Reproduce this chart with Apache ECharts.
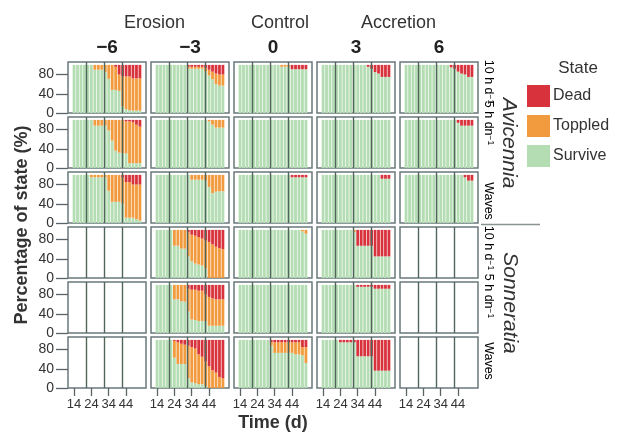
<!DOCTYPE html>
<html>
<head>
<meta charset="utf-8">
<script src="https://cdn.jsdelivr.net/npm/echarts@6/dist/echarts.min.js"></script>
<style>
  html, body { margin: 0; padding: 0; background: #fff; }
  #main { width: 617px; height: 433px; }
</style>
</head>
<body>
<div id="main"></div>
<script>
// sampling days (one bar every second day)
var days = [14, 16, 18, 20, 22, 24, 26, 28, 30, 32, 34, 36, 38, 40, 42, 44, 46, 48, 50, 52];
var dayTicks = [14, 24, 34, 44];
var pctTicks = [0, 40, 80];
var columns = ['\u22126', '\u22123', '0', '3', '6'];
var states = ['Survive', 'Toppled', 'Dead'];

var full = [100, 100, 100, 100, 100, 100, 100, 100, 100, 100, 100, 100, 100, 100, 100, 100, 100, 100, 100, 100];
var none = [0, 0, 0, 0, 0, 0, 0, 0, 0, 0, 0, 0, 0, 0, 0, 0, 0, 0, 0, 0];

// Avicennia, 10 h d-1 : survive % and dead % (toppled is the rest)
var avi10_m6_S = [100, 100, 100, 100, 100, 100, 90, 90, 90, 85, 71, 48, 48, 46, 14, 8, 6, 5, 5, 5];
var avi10_m6_D = [0, 0, 0, 0, 0, 0, 0, 0, 0, 0, 0, 0, 4, 20, 24, 24, 24, 28, 28, 28];
var avi10_m3_S = [100, 100, 100, 100, 100, 100, 100, 100, 100, 92, 92, 92, 92, 92, 86, 78, 70, 60, 57, 57];
var avi10_m3_D = [0, 0, 0, 0, 0, 0, 0, 0, 0, 4, 4, 4, 4, 4, 6, 10, 14, 18, 20, 20];
var avi10_c0_S = [100, 100, 100, 100, 100, 100, 100, 100, 100, 100, 100, 100, 96, 96, 96, 91, 91, 91, 91, 91];
var avi10_c0_D = [0, 0, 0, 0, 0, 0, 0, 0, 0, 0, 0, 0, 0, 0, 0, 9, 9, 9, 9, 9];
var avi10_p3_S = [100, 100, 100, 100, 100, 100, 100, 100, 100, 100, 100, 100, 100, 96, 92, 85, 82, 75, 75, 75];
var avi10_p3_D = [0, 0, 0, 0, 0, 0, 0, 0, 0, 0, 0, 0, 0, 4, 8, 15, 18, 25, 25, 25];
var avi10_p6_S = [100, 100, 100, 100, 100, 100, 100, 100, 100, 100, 100, 100, 100, 95, 92, 86, 82, 80, 75, 75];
var avi10_p6_D = [0, 0, 0, 0, 0, 0, 0, 0, 0, 0, 0, 0, 0, 5, 8, 14, 18, 20, 25, 25];

// Avicennia, 5 h dn-1
var avi5_m6_S = [100, 100, 100, 100, 100, 100, 88, 88, 88, 88, 78, 57, 36, 32, 31, 30, 10, 10, 10, 10];
var avi5_m6_D = [0, 0, 0, 0, 0, 0, 0, 0, 0, 0, 0, 0, 0, 0, 0, 3, 3, 5, 10, 14];
var avi5_m3_S = [100, 100, 100, 100, 100, 100, 100, 100, 100, 100, 100, 100, 100, 100, 100, 97, 90, 84, 84, 84];
var avi5_p6_S = [100, 100, 100, 100, 100, 100, 100, 100, 100, 100, 100, 100, 100, 100, 100, 94, 88, 88, 88, 88];
var avi5_p6_D = [0, 0, 0, 0, 0, 0, 0, 0, 0, 0, 0, 0, 0, 0, 0, 6, 12, 12, 12, 12];

// Avicennia, waves
var aviW_m6_S = [100, 100, 100, 100, 100, 95, 95, 95, 95, 95, 67, 44, 44, 44, 40, 11, 11, 11, 8, 5];
var aviW_m6_D = [0, 0, 0, 0, 0, 0, 0, 0, 0, 0, 0, 0, 0, 0, 5, 15, 15, 20, 20, 20];
var aviW_m3_S = [100, 100, 100, 100, 100, 100, 100, 100, 100, 100, 90, 90, 90, 90, 88, 75, 62, 65, 66, 66];
var aviW_c0_S = [100, 100, 100, 100, 100, 100, 100, 100, 100, 100, 100, 100, 100, 100, 100, 95, 95, 95, 95, 95];
var aviW_c0_D = [0, 0, 0, 0, 0, 0, 0, 0, 0, 0, 0, 0, 0, 0, 0, 5, 5, 5, 5, 5];
var aviW_p3_S = [100, 100, 100, 100, 100, 100, 100, 100, 100, 100, 100, 100, 100, 100, 100, 100, 100, 92, 92, 92];
var aviW_p3_D = [0, 0, 0, 0, 0, 0, 0, 0, 0, 0, 0, 0, 0, 0, 0, 0, 0, 8, 8, 8];
var aviW_p6_S = [100, 100, 100, 100, 100, 100, 100, 100, 100, 100, 100, 100, 100, 100, 100, 100, 100, 95, 88, 88];
var aviW_p6_D = [0, 0, 0, 0, 0, 0, 0, 0, 0, 0, 0, 0, 0, 0, 0, 0, 0, 5, 12, 12];

// Sonneratia, 10 h d-1
var son10_m3_S = [100, 100, 100, 100, 100, 67, 67, 61, 61, 45, 35, 30, 28, 26, 20, 0, 0, 0, 0, 0];
var son10_m3_D = [0, 0, 0, 0, 0, 0, 0, 0, 0, 5, 10, 12, 15, 18, 22, 25, 30, 35, 38, 40];
var son10_c0_S = [100, 100, 100, 100, 100, 100, 100, 100, 100, 100, 100, 100, 100, 100, 100, 100, 100, 100, 97, 92];
var son10_p3_S = [100, 100, 100, 100, 100, 100, 100, 100, 100, 95, 67, 67, 67, 67, 67, 45, 45, 45, 45, 45];
var son10_p3_D = [0, 0, 0, 0, 0, 0, 0, 0, 0, 0, 33, 33, 33, 33, 33, 55, 55, 55, 55, 55];

// Sonneratia, 5 h dn-1
var son5_m3_S = [100, 100, 100, 100, 100, 70, 70, 66, 65, 45, 28, 27, 25, 25, 24, 15, 15, 15, 15, 15];
var son5_m3_D = [0, 0, 0, 0, 0, 0, 0, 0, 0, 8, 10, 10, 12, 12, 20, 25, 28, 30, 30, 30];
var son5_p3_S = [100, 100, 100, 100, 100, 100, 100, 100, 100, 100, 96, 96, 96, 96, 96, 92, 92, 92, 92, 92];
var son5_p3_D = [0, 0, 0, 0, 0, 0, 0, 0, 0, 0, 4, 4, 4, 4, 4, 8, 8, 8, 8, 8];

// Sonneratia, waves
var sonW_m3_S = [100, 100, 100, 100, 100, 63, 50, 50, 50, 20, 12, 10, 8, 8, 4, 0, 0, 0, 0, 0];
var sonW_m3_D = [0, 0, 0, 0, 0, 2, 5, 8, 10, 12, 15, 18, 30, 35, 45, 55, 63, 68, 77, 80];
var sonW_c0_S = [100, 100, 100, 100, 100, 100, 100, 100, 100, 88, 73, 73, 73, 73, 73, 73, 70, 70, 68, 52];
var sonW_c0_D = [0, 0, 0, 0, 0, 0, 0, 0, 0, 5, 5, 5, 5, 5, 5, 5, 5, 5, 15, 15];
var sonW_p3_S = [100, 100, 100, 100, 100, 95, 95, 95, 95, 95, 66, 66, 66, 66, 66, 36, 36, 36, 36, 36];
var sonW_p3_D = [0, 0, 0, 0, 0, 5, 5, 5, 5, 5, 34, 34, 34, 34, 34, 64, 64, 64, 64, 64];

// rows x columns, each cell [survive, dead] or null when there was no treatment
var panels = [
  [[avi10_m6_S, avi10_m6_D], [avi10_m3_S, avi10_m3_D], [avi10_c0_S, avi10_c0_D], [avi10_p3_S, avi10_p3_D], [avi10_p6_S, avi10_p6_D]],
  [[avi5_m6_S, avi5_m6_D], [avi5_m3_S, none], [full, none], [full, none], [avi5_p6_S, avi5_p6_D]],
  [[aviW_m6_S, aviW_m6_D], [aviW_m3_S, none], [aviW_c0_S, aviW_c0_D], [aviW_p3_S, aviW_p3_D], [aviW_p6_S, aviW_p6_D]],
  [null, [son10_m3_S, son10_m3_D], [son10_c0_S, none], [son10_p3_S, son10_p3_D], null],
  [null, [son5_m3_S, son5_m3_D], [full, none], [son5_p3_S, son5_p3_D], null],
  [null, [sonW_m3_S, sonW_m3_D], [sonW_c0_S, sonW_c0_D], [sonW_p3_S, sonW_p3_D], null]
];
// row strip labels: main text + superscript
var rowLabels = [['10 h d', '\u22121'], ['5 h dn', '\u22121'], ['Waves', ''], ['10 h d', '\u22121'], ['5 h dn', '\u22121'], ['Waves', '']];
var rowLabelY = [82, 123, 201, 248, 296, 361];
var markDays = [21.3, 31.4, 42.0];

var colors = { Survive: '#b5ddb3', Toppled: '#f29b3e', Dead: '#d8333d' };
var colLeft = [68, 151, 234, 317, 400];
var rowTop = [62, 117, 172, 227, 282, 337];
var panelW = 78, panelH = 51;
var font = 'Liberation Sans, Arial, sans-serif';

// one category per day, 11 .. 55
var dayCats = [];
for (var dd = 11; dd <= 55; dd++) dayCats.push(String(dd));

var myChart = echarts.init(document.getElementById('main'));

var grids = [], xAxes = [], lineAxes = [], yAxes = [], series = [];

function isTick(idx, val) { return dayTicks.indexOf(+val) >= 0; }

for (var r = 0; r < 6; r++) {
  for (var c = 0; c < 5; c++) {
    var k = r * 5 + c;
    grids.push({
      left: colLeft[c], top: rowTop[r], width: panelW, height: panelH,
      show: true, borderColor: '#6a787c', borderWidth: 1.5, backgroundColor: '#fff'
    });
    xAxes.push({
      type: 'category', gridIndex: k, data: dayCats, boundaryGap: true,
      splitLine: { show: false }, axisLine: { show: false },
      axisTick: { show: r === 5, interval: isTick, alignWithLabel: true, length: 8, lineStyle: { color: '#5a6468', width: 1.3 } },
      axisLabel: { show: r === 5, interval: isTick, margin: 10, fontSize: 13, color: '#333', fontFamily: font }
    });
    // hidden value axis, only used to place the vertical reference lines
    lineAxes.push({ type: 'value', gridIndex: k, min: 10.5, max: 55.5, show: false });
    yAxes.push({
      type: 'value', gridIndex: k, min: 0, max: 106,
      splitLine: { show: false }, axisLine: { show: false },
      axisTick: { show: c === 0, customValues: pctTicks, length: 12, lineStyle: { color: '#5a6468', width: 1.3 } },
      axisLabel: { show: c === 0, customValues: pctTicks, margin: 14, fontSize: 14, color: '#333', fontFamily: font }
    });

    var cell = panels[r][c];
    if (cell) {
      var vals = { Survive: [], Toppled: [], Dead: [] };
      dayCats.forEach(function () { vals.Survive.push('-'); vals.Toppled.push('-'); vals.Dead.push('-'); });
      for (var i = 0; i < days.length; i++) {
        var pos = dayCats.indexOf(String(days[i]));
        var s = cell[0][i], d = cell[1][i];
        vals.Survive[pos] = s;
        vals.Toppled[pos] = Math.max(0, 100 - s - d);
        vals.Dead[pos] = d;
      }
      states.forEach(function (name) {
        series.push({
          name: name, type: 'bar', stack: 'p' + k,
          xAxisIndex: k, yAxisIndex: k,
          barWidth: 2.8, itemStyle: { color: colors[name] },
          data: vals[name], silent: true
        });
      });
    }
  }
}

// vertical reference lines, drawn above the bars
for (var k2 = 0; k2 < 30; k2++) {
  series.push({
    type: 'line', xAxisIndex: 30 + k2, yAxisIndex: k2, data: [], z: 5,
    markLine: {
      silent: true, symbol: ['none', 'none'], label: { show: false },
      lineStyle: { color: '#50665a', width: 1.4, type: 'solid' },
      data: markDays.map(function (v) { return { xAxis: v }; })
    }
  });
}

var graphics = [
  { type: 'text', left: 124, top: 14, style: { text: 'Erosion', font: '18px ' + font, fill: '#333' } },
  { type: 'text', left: 251, top: 14, style: { text: 'Control', font: '18px ' + font, fill: '#333' } },
  { type: 'text', left: 361, top: 14, style: { text: 'Accretion', font: '18px ' + font, fill: '#333' } },
  { type: 'text', x: 22, y: 225, rotation: Math.PI / 2,
    style: { text: 'Percentage of state (%)', font: 'bold 18px ' + font, fill: '#333', align: 'center', verticalAlign: 'middle' } },
  { type: 'text', x: 273, y: 423,
    style: { text: 'Time (d)', font: 'bold 18px ' + font, fill: '#333', align: 'center', verticalAlign: 'middle' } },
  { type: 'text', x: 578, y: 68,
    style: { text: 'State', font: '17px ' + font, fill: '#333', align: 'center', verticalAlign: 'middle' } },
  { type: 'text', x: 509, y: 143, rotation: -Math.PI / 2,
    style: { text: 'Avicennia', font: 'italic 21px ' + font, fill: '#333', align: 'center', verticalAlign: 'middle' } },
  { type: 'text', x: 510, y: 303, rotation: -Math.PI / 2,
    style: { text: 'Sonneratia', font: 'italic 21px ' + font, fill: '#333', align: 'center', verticalAlign: 'middle' } },
  { type: 'line', shape: { x1: 481, y1: 224.5, x2: 540, y2: 224.5 }, style: { stroke: '#8a9294', lineWidth: 1.5 } }
];
columns.forEach(function (t, c) {
  graphics.push({ type: 'text', x: colLeft[c] + panelW / 2, y: 48,
    style: { text: t, font: 'bold 19px ' + font, fill: '#222', align: 'center', verticalAlign: 'middle' } });
});
rowLabels.forEach(function (t, r) {
  graphics.push({ type: 'text', x: 488, y: rowLabelY[r], rotation: -Math.PI / 2,
    style: {
      text: '{m|' + t[0] + '}' + (t[1] ? '{s|' + t[1] + '}' : ''),
      align: 'center', verticalAlign: 'middle',
      rich: {
        m: { fontSize: 12.5, fontFamily: font, color: '#333', lineHeight: 14 },
        s: { fontSize: 8.5, fontFamily: font, color: '#333', verticalAlign: 'top', lineHeight: 14, padding: [0, 0, 5, 0] }
      }
    } });
});

var option = {
  animation: false,
  backgroundColor: '#fff',
  grid: grids,
  xAxis: xAxes.concat(lineAxes),
  yAxis: yAxes,
  legend: {
    data: ['Dead', 'Toppled', 'Survive'],
    orient: 'vertical', left: 522, top: 80,
    icon: 'rect', itemWidth: 23, itemHeight: 22, itemGap: 8,
    selectedMode: false,
    textStyle: { fontSize: 16, color: '#333', fontFamily: font, padding: [0, 0, 0, -2] }
  },
  graphic: graphics,
  series: series
};

myChart.setOption(option);
</script>
</body>
</html>
